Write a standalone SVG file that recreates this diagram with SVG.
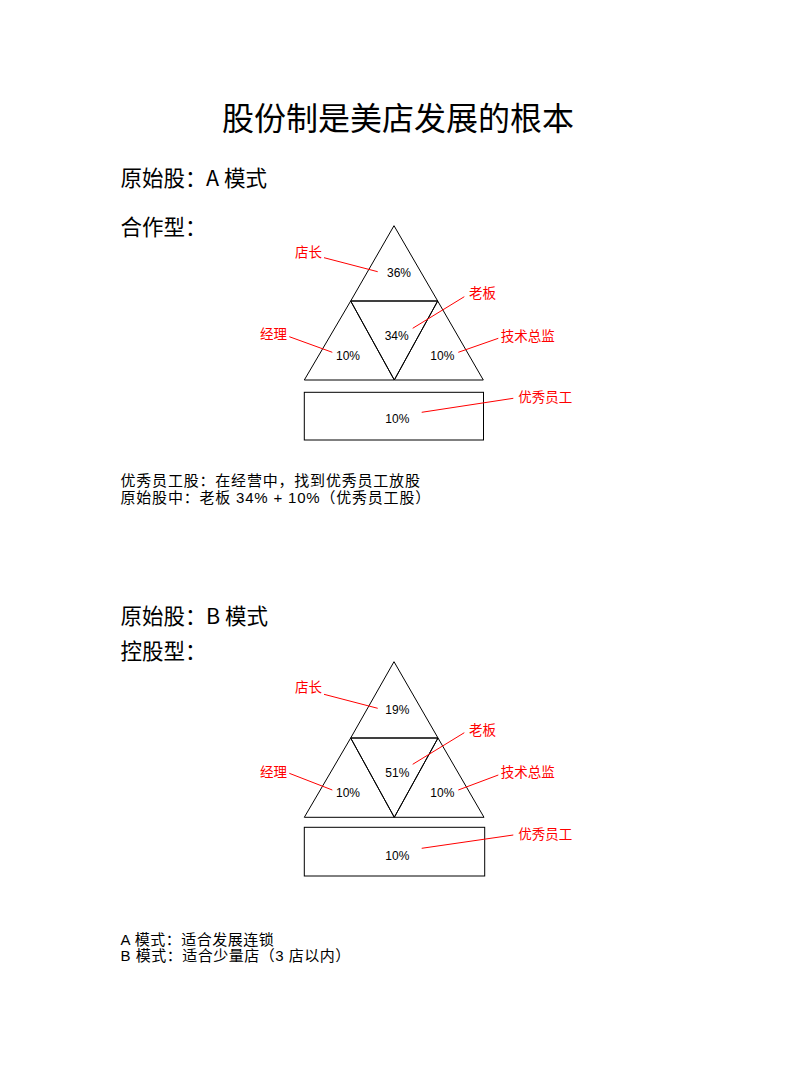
<svg xmlns="http://www.w3.org/2000/svg" width="792" height="1080" viewBox="0 0 792 1080">
<style>
text{font-family:"Liberation Sans","Noto Sans CJK SC",sans-serif;fill:#000}
.title{font-size:32px;font-family:"Noto Sans CJK SC",sans-serif}
.h{font-size:21.5px;font-family:"Noto Sans CJK SC",sans-serif}
.body{font-size:15px}
.pct{font-size:12px;text-anchor:middle}
.lbl{font-size:13.5px;fill:#ff0000;font-family:"Noto Sans CJK SC",sans-serif}
.shape{fill:none;stroke:#000;stroke-width:1}
.lead{stroke:#ff0000;stroke-width:1;fill:none}
</style>
<rect width="792" height="1080" fill="#fff"/>
<text class="title" x="398" y="129.5" text-anchor="middle">股份制是美店发展的根本</text>

<g id="sectionA-heading">
<text class="h" x="120.5" y="186">原始股：</text><text class="h" x="206" y="186">A 模式</text>
<text class="h" x="120.5" y="235">合作型：</text>
</g>

<g id="pyramidA">
<g id="A-top"><polygon class="shape" points="394,225.7 350.7,301 437.7,301"/><text class="pct" x="399" y="276.6">36%</text></g>
<g id="A-mid"><polygon class="shape" points="350.7,301 437.7,301 394.3,380"/><text class="pct" x="396.7" y="340">34%</text></g>
<g id="A-left"><polygon class="shape" points="350.7,301 304.3,380 394.3,380"/><text class="pct" x="348" y="360">10%</text></g>
<g id="A-right"><polygon class="shape" points="437.7,301 483.3,380 394.3,380"/><text class="pct" x="442.3" y="360">10%</text></g>
<g id="A-base"><rect class="shape" x="304.3" y="392.3" width="179.2" height="47.7"/><text class="pct" x="397.3" y="423.3">10%</text></g>
</g>

<g id="labelsA">
<text class="lbl" x="295" y="257">店长</text>
<text class="lbl" x="469" y="298">老板</text>
<text class="lbl" x="260" y="339">经理</text>
<text class="lbl" x="500.7" y="340.6">技术总监</text>
<text class="lbl" x="518.3" y="402.2">优秀员工</text>
</g>

<g id="connectorsA">
<line class="lead" x1="324" y1="257.7" x2="377.7" y2="271.7"/>
<line class="lead" x1="464.3" y1="296.7" x2="412.7" y2="328.3"/>
<line class="lead" x1="289.3" y1="336.7" x2="332.3" y2="352.3"/>
<line class="lead" x1="498.3" y1="338.3" x2="458.3" y2="352.3"/>
<line class="lead" x1="513.3" y1="398.3" x2="421.7" y2="412.3"/>
</g>

<g id="notesA">
<text class="body" x="120.5" y="486" letter-spacing="0.8">优秀员工股：在经营中，找到优秀员工放股</text>
<text class="body" x="120.5" y="502.7" letter-spacing="0.8">原始股中：老板 34% + 10%（优秀员工股）</text>
</g>

<g id="sectionB-heading">
<text class="h" x="120.5" y="623.5">原始股：</text><text class="h" x="206" y="623.5">B 模式</text>
<text class="h" x="120.5" y="658.5">控股型：</text>
</g>

<g id="pyramidB">
<g id="B-top"><polygon class="shape" points="394,661.7 350.7,738 438,738"/><text class="pct" x="397.3" y="713.6">19%</text></g>
<g id="B-mid"><polygon class="shape" points="350.7,738 438,738 394.3,817.3"/><text class="pct" x="397.3" y="776.6">51%</text></g>
<g id="B-left"><polygon class="shape" points="350.7,738 304.3,817.3 394.3,817.3"/><text class="pct" x="348" y="796.6">10%</text></g>
<g id="B-right"><polygon class="shape" points="438,738 484,817.3 394.3,817.3"/><text class="pct" x="442.3" y="796.6">10%</text></g>
<g id="B-base"><rect class="shape" x="304.3" y="827.3" width="180.4" height="48.7"/><text class="pct" x="397.3" y="860.3">10%</text></g>
</g>

<g id="labelsB">
<text class="lbl" x="295" y="692.2">店长</text>
<text class="lbl" x="469" y="735">老板</text>
<text class="lbl" x="260" y="776.6">经理</text>
<text class="lbl" x="500.7" y="777.2">技术总监</text>
<text class="lbl" x="518.3" y="839.2">优秀员工</text>
</g>

<g id="connectorsB">
<line class="lead" x1="324" y1="694.3" x2="377.7" y2="708.3"/>
<line class="lead" x1="464.3" y1="732.7" x2="412.7" y2="764.3"/>
<line class="lead" x1="289.3" y1="773.3" x2="332.3" y2="790"/>
<line class="lead" x1="498.3" y1="775" x2="458.3" y2="790"/>
<line class="lead" x1="513.3" y1="835" x2="421.7" y2="848.3"/>
</g>

<g id="notesB">
<text class="body" x="120.5" y="944.5" letter-spacing="0.5">A 模式：适合发展连锁</text>
<text class="body" x="120.5" y="961" letter-spacing="0.5">B 模式：适合少量店（3 店以内）</text>
</g>
</svg>
